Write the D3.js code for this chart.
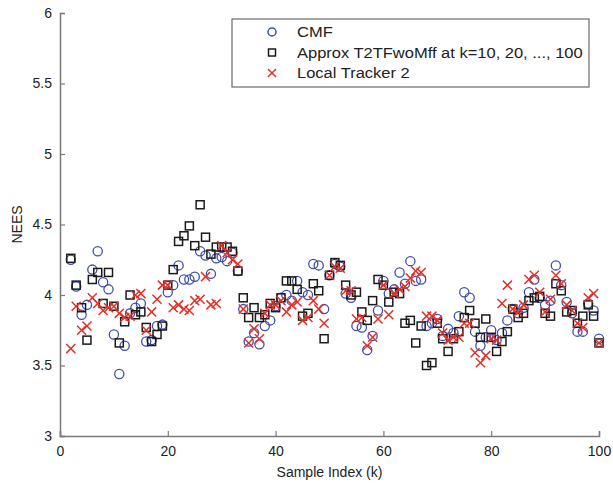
<!DOCTYPE html>
<html>
<head>
<meta charset="utf-8">
<script src="https://cdn.jsdelivr.net/npm/d3@7"></script>
<style>
  body { margin: 0; background: #fff; }
  svg { font-family: "Liberation Sans", Arial, sans-serif; }
</style>
</head>
<body>
<div id="chart"></div>
<script>
// sample index k = 2..100
const sampleIndex = d3.range(2, 101);

const cmf = [4.25, 4.06, 3.86, 3.93, 4.18, 4.31, 4.09, 4.04, 3.72, 3.44,
  3.64, 3.87, 3.91, 3.94, 3.67, 3.68, 3.78, 3.79, 4.02, 4.07,
  4.21, 4.11, 4.11, 4.13, 4.31, 4.28, 4.15, 4.26, 4.27, 4.24,
  4.30, 4.17, 3.90, 3.67, 3.73, 3.65, 3.78, 3.82, 3.92, 3.98,
  4.00, 3.96, 4.10, 4.02, 4.00, 4.22, 4.21, 3.90, 4.14, 4.22,
  4.20, 4.01, 3.98, 3.78, 3.77, 3.61, 3.71, 3.89, 4.10, 4.01,
  4.04, 4.16, 4.08, 4.24, 4.10, 4.11, 3.78, 3.80, 3.83, 3.71,
  3.76, 3.73, 3.85, 4.02, 3.98, 3.74, 3.64, 3.70, 3.75, 3.68,
  3.73, 3.82, 3.90, 3.87, 3.91, 4.02, 4.11, 3.98, 3.93, 3.96,
  4.21, 4.07, 3.95, 3.87, 3.74, 3.74, 3.94, 3.89, 3.69];

const approx = [4.26, 4.07, 3.91, 3.68, 4.11, 4.16, 3.94, 4.16, 3.92, 3.66,
  3.81, 4.00, 3.86, 3.88, 3.77, 3.67, 3.72, 3.78, 4.07, 4.18,
  4.38, 4.42, 4.49, 4.35, 4.64, 4.41, 4.29, 4.34, 4.34, 4.34,
  4.31, 4.17, 3.98, 3.84, 3.91, 3.84, 3.86, 3.94, 3.91, 3.98,
  4.10, 4.10, 4.04, 3.85, 3.87, 4.08, 4.03, 3.69, 4.14, 4.23,
  4.21, 4.07, 4.00, 4.02, 3.88, 3.82, 3.96, 4.11, 4.07, 3.95,
  4.02, 4.01, 3.80, 3.82, 3.66, 3.78, 3.50, 3.52, 3.80, 3.69,
  3.60, 3.69, 3.74, 3.84, 3.89, 3.80, 3.70, 3.83, 3.70, 3.60,
  3.67, 3.74, 3.90, 3.84, 3.87, 3.96, 3.98, 3.99, 3.87, 3.85,
  4.08, 4.03, 3.88, 3.89, 3.80, 3.85, 3.93, 3.85, 3.66];

const local2 = [3.62, 3.92, 3.75, 3.78, 3.98, 3.94, 3.89, 3.91, 3.92, 3.87,
  3.84, 3.85, 4.00, 4.01, 3.75, 3.88, 3.97, 4.07, 4.07, 3.91,
  3.93, 3.90, 3.89, 3.96, 3.97, 4.13, 3.93, 3.94, 4.35, 4.30,
  4.25, 4.22, 3.90, 3.66, 3.76, 3.69, 3.87, 3.93, 3.93, 3.96,
  3.88, 3.93, 3.95, 3.82, 3.84, 3.96, 3.90, 3.80, 4.14, 4.20,
  4.19, 4.03, 4.03, 3.83, 3.84, 3.64, 3.70, 3.83, 4.07, 3.86,
  4.01, 4.04, 4.06, 4.12, 4.17, 4.16, 3.85, 3.85, 3.82, 3.73,
  3.68, 3.70, 3.70, 3.80, 3.80, 3.59, 3.52, 3.57, 3.69, 3.68,
  3.94, 4.07, 3.90, 3.88, 3.93, 4.11, 4.14, 4.02, 3.88, 3.97,
  4.14, 4.08, 3.93, 3.89, 3.80, 3.77, 3.98, 4.01, 3.66];

const xTicks = [0, 20, 40, 60, 80, 100];
const yTicks = [3, 3.5, 4, 4.5, 5, 5.5, 6];
const legendLabels = ["CMF", "Approx T2TFwoMff at k=10, 20, ..., 100", "Local Tracker 2"];

const W = 613, H = 483;
const margin = {top: 13, right: 14, bottom: 47, left: 60};
const width = W - margin.left - margin.right;
const height = H - margin.top - margin.bottom;

const blue = "#3f4fa8", red = "#e2302a", black = "#1a1a1a", axisCol = "#7a7a7a";

const svg = d3.select("#chart").append("svg")
  .attr("width", W)
  .attr("height", H);

const g = svg.append("g")
  .attr("transform", "translate(" + margin.left + "," + margin.top + ")");

const x = d3.scaleLinear().domain([0, 100]).range([0, width]);
const y = d3.scaleLinear().domain([3, 6]).range([height, 0]);

// axes with inward ticks
const xAxis = g.append("g")
  .attr("transform", "translate(0," + height + ")")
  .call(d3.axisBottom(x).tickValues(xTicks).tickSize(-5).tickPadding(10));
const yAxis = g.append("g")
  .call(d3.axisLeft(y).tickValues(yTicks).tickSize(-5).tickPadding(8).tickFormat(d3.format("")));

[xAxis, yAxis].forEach(a => {
  a.select(".domain").attr("stroke", axisCol).attr("stroke-width", 1.5);
  a.selectAll(".tick line").attr("stroke", axisCol).attr("stroke-width", 1.2);
  a.selectAll(".tick text").attr("fill", "#222").style("font-size", "14px");
});

// points
const pts = s => sampleIndex.map((k, i) => ({k: k, v: s[i]}));

g.selectAll(".cmf").data(pts(cmf)).enter().append("circle")
  .attr("class", "cmf")
  .attr("cx", d => x(d.k)).attr("cy", d => y(d.v)).attr("r", 4.6)
  .attr("fill", "none").attr("stroke", blue).attr("stroke-width", 1.3);

g.selectAll(".approx").data(pts(approx)).enter().append("rect")
  .attr("class", "approx")
  .attr("x", d => x(d.k) - 4).attr("y", d => y(d.v) - 4)
  .attr("width", 8).attr("height", 8)
  .attr("fill", "none").attr("stroke", black).attr("stroke-width", 1.5);

const cross = d3.symbol().type(d3.symbolX).size(55);
g.selectAll(".local").data(pts(local2)).enter().append("path")
  .attr("class", "local")
  .attr("transform", d => "translate(" + x(d.k) + "," + y(d.v) + ")")
  .attr("d", cross)
  .attr("fill", "none").attr("stroke", red).attr("stroke-width", 1.5);

// legend
const leg = svg.append("g").attr("transform", "translate(232,19)");
leg.append("rect")
  .attr("width", 357).attr("height", 68)
  .attr("fill", "#fff").attr("stroke", "#6a6a6a").attr("stroke-width", 1.2);

const legCross = d3.symbol().type(d3.symbolX).size(45);
legendLabels.forEach((label, i) => {
  const row = leg.append("g").attr("transform", "translate(40," + (13 + i * 20.5) + ")");
  if (i === 0) {
    row.append("circle").attr("r", 4)
      .attr("fill", "none").attr("stroke", blue).attr("stroke-width", 1.5);
  } else if (i === 1) {
    row.append("rect").attr("x", -3.5).attr("y", -3.5).attr("width", 7).attr("height", 7)
      .attr("fill", "none").attr("stroke", black).attr("stroke-width", 1.5);
  } else {
    row.append("path").attr("d", legCross)
      .attr("fill", "none").attr("stroke", red).attr("stroke-width", 1.5);
  }
  row.append("text")
    .attr("transform", "translate(25,0) scale(1.1,1)")
    .attr("dy", "0.35em")
    .style("font-size", "15px").attr("fill", "#222")
    .text(label);
});

// axis labels
svg.append("text")
  .attr("x", margin.left + width / 2).attr("y", 477)
  .attr("text-anchor", "middle")
  .style("font-size", "14px").attr("fill", "#222")
  .text("Sample Index (k)");

svg.append("text")
  .attr("transform", "translate(22," + (margin.top + height / 2) + ") rotate(-90)")
  .attr("text-anchor", "middle")
  .style("font-size", "14px").attr("fill", "#222")
  .text("NEES");
</script>
</body>
</html>
